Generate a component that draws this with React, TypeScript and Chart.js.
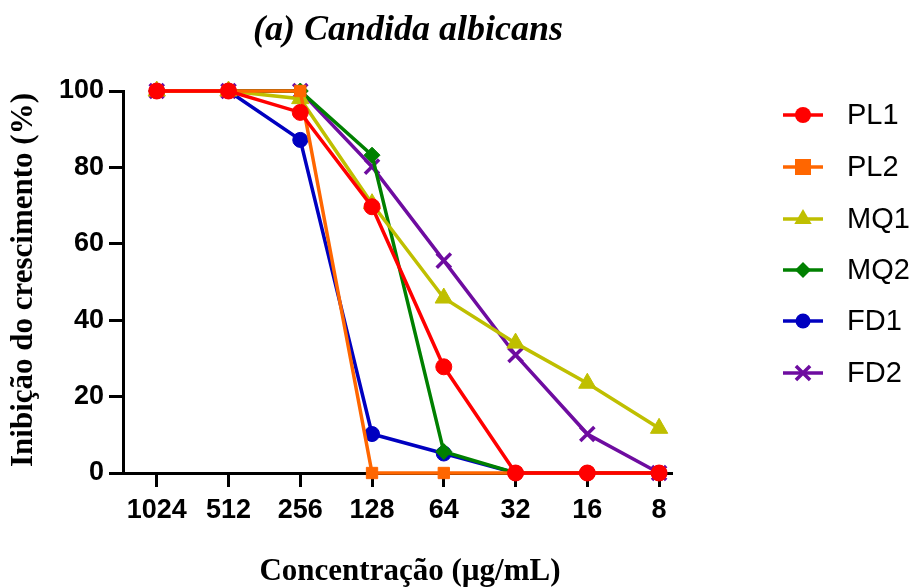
import React, { useEffect, useRef } from "react";
import { Chart, registerables } from "chart.js";

Chart.register(...registerables);

const categories = ["1024", "512", "256", "128", "64", "32", "16", "8"];
const seriesNames = ["PL1", "PL2", "MQ1", "MQ2", "FD1", "FD2"];
const PL1 = [100, 100, 94.4, 69.7, 27.8, 0, 0, 0];
const PL2 = [100, 100, 100, 0, 0, 0, 0, 0];
const MQ1 = [100, 100, 98, 70.5, 45.8, 34, 23.5, 11.7];
const MQ2 = [100, 100, 100, 83.2, 5.6, 0, 0, 0];
const FD1 = [100, 100, 87.2, 10.2, 5.1, 0, 0, 0];
const FD2 = [100, 100, 100, 80.2, 55.6, 30.9, 10.2, 0];
const yTicks = [0, 20, 40, 60, 80, 100];

const colors = ["#FF0000", "#FF6600", "#BFBF00", "#008000", "#0000C0", "#6E0CA0"];
const styles: any[] = ["circle", "rect", "triangle", "rectRot", "circle", "crossRot"];
const radii = [8, 8, 10, 8, 7.5, 10];
const values = [PL1, PL2, MQ1, MQ2, FD1, FD2];

function drawMarker(ctx: CanvasRenderingContext2D, style: string, x: number, y: number, r: number) {
  ctx.beginPath();
  if (style === "circle") {
    ctx.arc(x, y, r, 0, Math.PI * 2);
    ctx.fill();
  } else if (style === "rect") {
    ctx.fillRect(x - r, y - r, 2 * r, 2 * r);
  } else if (style === "triangle") {
    ctx.moveTo(x, y - r);
    ctx.lineTo(x + r * 0.87, y + r * 0.5);
    ctx.lineTo(x - r * 0.87, y + r * 0.5);
    ctx.closePath();
    ctx.fill();
  } else if (style === "rectRot") {
    ctx.moveTo(x, y - r);
    ctx.lineTo(x + r, y);
    ctx.lineTo(x, y + r);
    ctx.lineTo(x - r, y);
    ctx.closePath();
    ctx.fill();
  } else if (style === "crossRot") {
    const d = r * 0.707;
    ctx.lineWidth = 3.5;
    ctx.moveTo(x - d, y - d);
    ctx.lineTo(x + d, y + d);
    ctx.moveTo(x + d, y - d);
    ctx.lineTo(x - d, y + d);
    ctx.stroke();
  }
}

const overlay = {
  id: "overlay",
  afterDraw(chart: any) {
    const ctx = chart.ctx;
    ctx.save();
    ctx.fillStyle = "#000";
    ctx.textAlign = "center";
    ctx.textBaseline = "middle";
    ctx.font = "italic bold 36px 'Liberation Serif'";
    ctx.fillText("(a) Candida albicans", 408, 31);
    ctx.font = "bold 31px 'Liberation Serif'";
    ctx.fillText("Concentração (µg/mL)", 410, 572);
    ctx.save();
    ctx.translate(24, 280);
    ctx.rotate(-Math.PI / 2);
    ctx.fillText("Inibição do crescimento (%)", 0, 0);
    ctx.restore();
    const ys = [115, 167, 219, 270, 321, 373];
    seriesNames.forEach((n, i) => {
      const y = ys[i];
      ctx.strokeStyle = colors[i];
      ctx.lineWidth = 3.5;
      ctx.beginPath();
      ctx.moveTo(783, y);
      ctx.lineTo(823, y);
      ctx.stroke();
      ctx.fillStyle = colors[i];
      ctx.strokeStyle = colors[i];
      drawMarker(ctx, styles[i], 803, y, radii[i]);
      ctx.fillStyle = "#000";
      ctx.textAlign = "left";
      ctx.font = "29px 'Liberation Sans'";
      ctx.fillText(n, 847, y + 1);
    });
    ctx.restore();
  },
};

export default function App() {
  const ref = useRef<HTMLCanvasElement>(null);
  useEffect(() => {
    document.body.style.margin = "0";
    const datasets = seriesNames.map((n, i) => ({
      label: n,
      data: values[i].map((v, j) => ({ x: j, y: v })),
      borderColor: colors[i],
      backgroundColor: colors[i],
      borderWidth: 3.5,
      pointStyle: styles[i],
      pointRadius: radii[i],
      pointBorderWidth: styles[i] === "crossRot" ? 3.5 : 1,
      pointBorderColor: colors[i],
      pointBackgroundColor: colors[i],
      clip: false as any,
      tension: 0,
    }));
    const chart = new Chart(ref.current!, {
      type: "line",
      data: { datasets },
      options: {
        animation: false,
        responsive: false,
        layout: { padding: { left: 0, top: 91, right: 245, bottom: 0 } },
        plugins: { legend: { display: false }, tooltip: { enabled: false }, title: { display: false } },
        scales: {
          x: {
            type: "linear",
            min: -0.47,
            max: 7.18,
            afterBuildTicks: (s: any) => {
              s.ticks = categories.map((_, i) => ({ value: i }));
            },
            afterFit: (s: any) => {
              s.height = 114;
            },
            ticks: {
              callback: (v: any) => categories[Math.round(Number(v))],
              font: { family: "'Liberation Sans'", weight: "bold", size: 27 },
              color: "#000",
              padding: 7,
              maxRotation: 0,
              autoSkip: false,
            },
            grid: { drawOnChartArea: false, drawTicks: true, tickLength: 14, tickWidth: 3, tickColor: "#000" },
            border: { display: true, width: 3, color: "#000" },
          },
          y: {
            min: 0,
            max: 100,
            afterBuildTicks: (s: any) => {
              s.ticks = yTicks.map((v) => ({ value: v }));
            },
            afterFit: (s: any) => {
              s.width = 123;
            },
            ticks: {
              font: { family: "'Liberation Sans'", weight: "bold", size: 27 },
              color: "#000",
              padding: 5,
            },
            grid: { drawOnChartArea: false, drawTicks: true, tickLength: 14, tickWidth: 3, tickColor: "#000" },
            border: { display: true, width: 3, color: "#000" },
          },
        },
      },
      plugins: [overlay],
    });
    return () => chart.destroy();
  }, []);
  return (
    <div style={{ width: 917, height: 587, background: "#fff" }}>
      <canvas ref={ref} width={917} height={587} />
    </div>
  );
}
